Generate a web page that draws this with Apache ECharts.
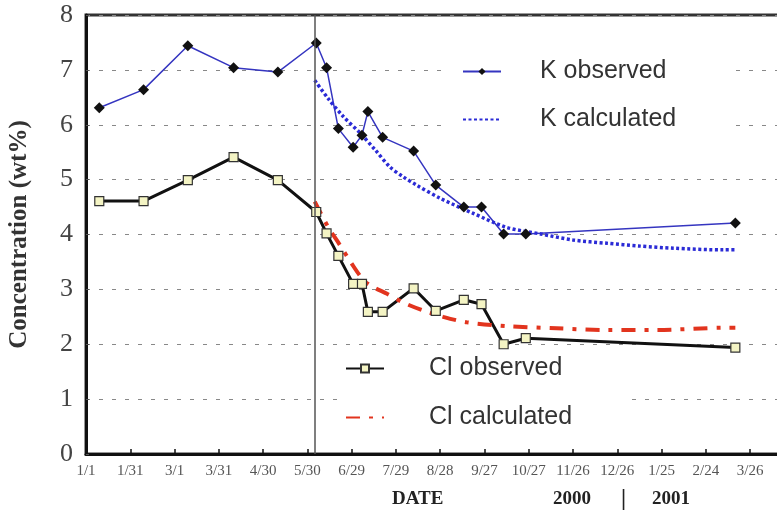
<!DOCTYPE html>
<html>
<head>
<meta charset="utf-8">
<script src="https://cdn.jsdelivr.net/npm/echarts@6/dist/echarts.min.js"></script>
<style>
  html, body { margin: 0; padding: 0; background: #fff; }
  #chart { width: 777px; height: 510px; }
</style>
</head>
<body>
<div id="chart"></div>
<script>
// x values are days counted from 1/1/2000
var tickLabels = ['1/1', '1/31', '3/1', '3/31', '4/30', '5/30', '6/29', '7/29', '8/28',
  '9/27', '10/27', '11/26', '12/26', '1/25', '2/24', '3/26'];

var obsDays = [9, 39, 69, 100, 130, 156, 163, 171, 181, 187, 191, 201, 222, 237, 256, 268, 283, 298, 440];
var kObserved = [6.31, 6.64, 7.44, 7.04, 6.96, 7.49, 7.04, 5.93, 5.59, 5.81, 6.24, 5.77, 5.52, 4.90, 4.50, 4.50, 4.01, 4.01, 4.21];
var clObserved = [4.61, 4.61, 4.99, 5.41, 4.99, 4.41, 4.02, 3.61, 3.10, 3.10, 2.59, 2.59, 3.02, 2.61, 2.81, 2.73, 2.00, 2.11, 1.94];

var kCalcDays = [155, 164, 174, 186, 196, 206, 215, 224, 240, 262, 285, 308, 330, 353, 375, 398, 432, 440];
var kCalculated = [6.81, 6.48, 6.16, 5.84, 5.54, 5.23, 5.05, 4.90, 4.66, 4.39, 4.13, 4.01, 3.90, 3.84, 3.79, 3.75, 3.72, 3.72];

var clCalcDays = [155, 164, 172, 180, 188, 194, 204, 215, 228, 242, 258, 285, 319, 353, 387, 432, 440];
var clCalculated = [4.60, 4.14, 3.81, 3.47, 3.17, 3.05, 2.92, 2.76, 2.62, 2.50, 2.40, 2.33, 2.29, 2.26, 2.26, 2.30, 2.30];

var switchDay = 155;

function pairs(xs, ys) {
  return xs.map(function (x, i) { return [x, ys[i]]; });
}

var serif = 'Liberation Serif';
var sans = 'Liberation Sans';

var chart = echarts.init(document.getElementById('chart'));

// no marker drawn in the legend for the calculated curves
var hideMark = { opacity: 0 };

var option = {
  animation: false,
  backgroundColor: '#fff',
  grid: {
    left: 86, top: 15, width: 701, height: 439,
    outerBoundsMode: 'none',
    show: true, borderColor: '#333', borderWidth: 3
  },
  legend: [
    {
      data: ['K observed', { name: 'K calculated', itemStyle: hideMark }],
      orient: 'vertical',
      left: 450, top: 53,
      z: 1,
      backgroundColor: '#fff',
      padding: [6, 54, 8, 12],
      itemWidth: 38, itemHeight: 9, itemGap: 23,
      textStyle: { fontFamily: sans, fontSize: 25, color: '#333', padding: [0, 0, 0, 34] }
    },
    {
      data: ['Cl observed', { name: 'Cl calculated', itemStyle: hideMark }],
      orient: 'vertical',
      left: 339, top: 352,
      z: 1,
      backgroundColor: '#fff',
      padding: [4, 53, 8, 6],
      itemWidth: 38, itemHeight: 10, itemGap: 24,
      textStyle: { fontFamily: sans, fontSize: 25, color: '#333', padding: [0, 0, 0, 40] }
    }
  ],
  xAxis: {
    type: 'value',
    min: 0, max: 475, interval: 30,
    axisLine: { lineStyle: { color: '#111', width: 3 } },
    axisTick: { inside: true, length: 5, lineStyle: { color: '#111', width: 1.5 } },
    splitLine: { show: false },
    axisLabel: {
      fontFamily: serif, fontSize: 15, color: '#555', margin: 10,
      showMaxLabel: false,
      formatter: function (v) {
        return v % 30 === 0 ? (tickLabels[v / 30] || '') : '';
      }
    }
  },
  yAxis: {
    type: 'value',
    min: 0, max: 8, interval: 1,
    name: 'Concentration (wt%)',
    nameLocation: 'middle',
    nameGap: 54,
    nameTextStyle: { fontFamily: serif, fontSize: 25, fontWeight: 'bold', color: '#333' },
    axisLine: { show: true, lineStyle: { color: '#111', width: 3 } },
    axisTick: { show: true, inside: true, length: 3, lineStyle: { color: '#555' } },
    axisLabel: { fontFamily: serif, fontSize: 26, color: '#444', margin: 13 },
    splitLine: { lineStyle: { color: '#888', width: 1, type: [4, 9] } }
  },
  series: [
    {
      name: 'K observed',
      type: 'line',
      data: pairs(obsDays, kObserved),
      symbol: 'diamond',
      symbolSize: 11,
      itemStyle: { color: '#111' },
      lineStyle: { color: '#3535c0', width: 1.5 },
      markLine: {
        silent: true,
        symbol: 'none',
        label: { show: false },
        lineStyle: { color: '#555', width: 1.5, type: 'solid' },
        data: [{ xAxis: switchDay }]
      }
    },
    {
      name: 'K calculated',
      type: 'line',
      data: pairs(kCalcDays, kCalculated),
      symbol: 'none',
      smooth: 0.3,
      itemStyle: { color: '#2b2bd6' },
      lineStyle: { color: '#2b2bd6', width: 3.5, type: [3, 2.5] }
    },
    {
      name: 'Cl observed',
      type: 'line',
      data: pairs(obsDays, clObserved),
      symbol: 'rect',
      symbolSize: 9,
      itemStyle: { color: '#f4f4c4', borderColor: '#333', borderWidth: 1.2 },
      lineStyle: { color: '#111', width: 3 }
    },
    {
      name: 'Cl calculated',
      type: 'line',
      data: pairs(clCalcDays, clCalculated),
      symbol: 'none',
      smooth: 0.3,
      itemStyle: { color: '#e2341e' },
      lineStyle: { color: '#e2341e', width: 4, type: [14, 9, 4, 9] }
    }
  ],
  graphic: [
    { type: 'text', left: 392, top: 490, style: { text: 'DATE', fontFamily: serif, fontSize: 19, fontWeight: 'bold', fill: '#222' } },
    { type: 'text', left: 553, top: 490, style: { text: '2000', fontFamily: serif, fontSize: 19, fontWeight: 'bold', fill: '#222' } },
    { type: 'text', left: 621, top: 488, style: { text: '|', fontFamily: serif, fontSize: 23, fontWeight: 'bold', fill: '#222' } },
    { type: 'text', left: 652, top: 490, style: { text: '2001', fontFamily: serif, fontSize: 19, fontWeight: 'bold', fill: '#222' } }
  ]
};

chart.setOption(option);
</script>
</body>
</html>
